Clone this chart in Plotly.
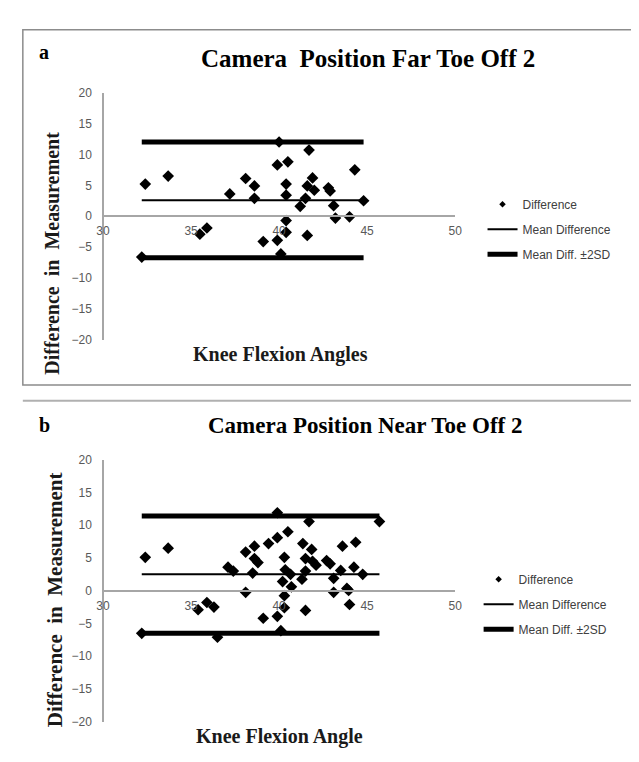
import plotly.graph_objects as go

# ---------------- data ----------------
a_x = [32.4, 33.7, 32.2, 35.5, 35.9, 37.2, 38.1, 38.6, 38.6, 39.1, 39.9, 39.9, 40.0,
       40.5, 40.4, 40.4, 40.4, 40.4, 40.1, 41.2, 41.5, 41.6, 41.7, 41.9, 42.0, 41.6,
       42.8, 42.9, 43.1, 43.2, 44.0, 44.3, 44.8]
a_y = [5.2, 6.5, -6.6, -2.9, -1.9, 3.6, 6.1, 4.9, 2.9, -4.1, -3.9, 8.3, 12.0,
       8.8, 5.2, 3.4, -0.7, -2.6, -6.1, 1.6, 2.9, 4.9, 10.7, 6.2, 4.2, -3.1,
       4.6, 4.1, 1.7, -0.3, -0.1, 7.5, 2.5]
a_mean, a_upper, a_lower = 2.6, 12.0, -6.7

b_x = [32.4, 33.7, 32.2, 35.4, 35.9, 36.3, 36.5, 37.1, 37.4, 38.1, 38.1, 38.6, 38.6,
       38.8, 38.5, 39.1, 39.4, 39.9, 39.9, 39.9, 40.1, 40.2, 40.3, 40.35, 40.3, 40.3,
       40.5, 40.65, 40.7, 41.3, 41.35, 41.5, 41.5, 41.5, 41.7, 41.85, 41.9, 42.1, 42.7,
       42.9, 43.1, 43.1, 43.5, 43.6, 43.85, 43.95, 44.0, 44.25, 44.35, 44.75, 45.7]
b_y = [5.1, 6.5, -6.5, -2.9, -1.8, -2.5, -7.1, 3.6, 3.0, 5.9, -0.25, 6.8, 4.9,
       4.3, 2.7, -4.2, 7.2, 8.1, 11.9, -3.9, -6.1, 1.4, 5.1, 3.2, -0.75, -2.6,
       9.0, 2.5, 0.6, 1.75, 7.2, 3.0, 4.9, -3.0, 10.55, 6.3, 4.5, 3.9, 4.6,
       4.1, 1.9, -0.25, 3.1, 6.8, 0.35, 0.05, -2.1, 3.6, 7.4, 2.5, 10.55]
b_mean, b_upper, b_lower = 2.5, 11.4, -6.5

x_ticks = [30, 35, 40, 45, 50]
y_ticks = [-20, -15, -10, -5, 0, 5, 10, 15, 20]

title_a = "Camera  Position Far Toe Off 2"
title_b = "Camera Position Near Toe Off 2"
xlab_a = "Knee Flexion Angles"
xlab_b = "Knee Flexion Angle"
ylab = "Difference  in  Measurement"

# ---------------- layout geometry ----------------
W, H = 639, 762
def py(v):  # pixel y -> paper
    return 1 - v / H
def px(v):
    return v / W

xdom = [px(90), px(450)]
ydom_a = [py(331), py(79)]
ydom_b = [py(720), py(453)]
pos_a = ydom_a[0] + 0.5 * (ydom_a[1] - ydom_a[0])
pos_b = ydom_b[0] + 0.5 * (ydom_b[1] - ydom_b[0])

serif = "Liberation Serif, Times New Roman, serif"
sans = "Liberation Sans, Arial, sans-serif"
tick_col = "#595959"
axis_col = "#a6a6a6"

fig = go.Figure()

def add_panel(xs, ys, mean, up, lo, xa, ya, leg):
    x0, x1 = min(xs), max(xs)
    fig.add_trace(go.Scatter(
        x=[x0, x1, None, x0, x1], y=[up, up, None, lo, lo], mode="lines",
        line=dict(color="black", width=5), name="Mean Diff. ±2SD",
        xaxis=xa, yaxis=ya, legend=leg, legendgroup="sd", legendrank=3))
    fig.add_trace(go.Scatter(
        x=[x0, x1], y=[mean, mean], mode="lines",
        line=dict(color="black", width=2), name="Mean Difference",
        xaxis=xa, yaxis=ya, legend=leg, legendgroup="mean", legendrank=2))
    fig.add_trace(go.Scatter(
        x=xs, y=ys, mode="markers",
        marker=dict(symbol="diamond", color="black", size=9, line=dict(width=0)),
        name="Difference", showlegend=False, xaxis=xa, yaxis=ya))
    # legend swatch for the markers (smaller glyph as in the original)
    fig.add_trace(go.Scatter(
        x=[None], y=[None], mode="markers",
        marker=dict(symbol="diamond", color="black", size=5),
        name="Difference", xaxis=xa, yaxis=ya, legend=leg,
        legendgroup="diff", legendrank=1))

add_panel(a_x, a_y, a_mean, a_upper, a_lower, "x", "y", "legend")
add_panel(b_x, b_y, b_mean, b_upper, b_lower, "x2", "y2", "legend2")

xaxis_common = dict(range=[30, 50], tickvals=x_ticks, showgrid=False, zeroline=False,
                    showline=True, linecolor=axis_col, linewidth=1.5,
                    tickfont=dict(family=sans, size=12, color=tick_col),
                    ticks="", ticklabelstandoff=4, domain=xdom, anchor="free",
                    fixedrange=True)
yaxis_common = dict(range=[-20, 20], tickvals=y_ticks, showgrid=False, zeroline=False,
                    showline=True, linecolor=axis_col, linewidth=1.5,
                    tickfont=dict(family=sans, size=12, color=tick_col),
                    ticks="", ticklabelstandoff=8, anchor="free", position=xdom[0],
                    fixedrange=True)

leg_common = dict(font=dict(family=sans, size=12, color="#404040"),
                  bgcolor="rgba(0,0,0,0)", traceorder="grouped", tracegroupgap=6,
                  xanchor="left", yanchor="top", itemclick=False)

def ann(text, x, y, size, angle=0, color="black"):
    return dict(text="<b>" + text + "</b>", x=px(x), y=py(y), xref="paper", yref="paper",
                xanchor="center", yanchor="middle", showarrow=False, textangle=angle,
                font=dict(family=serif, size=size, color=color))

fig.update_layout(
    width=W, height=H, margin=dict(l=0, r=0, t=0, b=0),
    paper_bgcolor="white", plot_bgcolor="white", showlegend=True,
    xaxis=dict(**xaxis_common, position=pos_a),
    yaxis=dict(**yaxis_common, domain=ydom_a),
    xaxis2=dict(**xaxis_common, position=pos_b),
    yaxis2=dict(**yaxis_common, domain=ydom_b),
    legend=dict(**leg_common, x=px(478), y=py(178)),
    legend2=dict(**leg_common, x=px(474), y=py(560)),
    shapes=[
        dict(type="rect", xref="paper", yref="paper", x0=px(8), x1=px(660),
             y0=py(377), y1=py(15), line=dict(color="#8c8c8c", width=1.5)),
        dict(type="line", xref="paper", yref="paper", x0=px(8), x1=1.0,
             y0=py(393), y1=py(393), line=dict(color="#b0b0b0", width=2)),
    ],
    annotations=[
        ann("a", 30, 38, 20),
        ann(title_a, 361, 44, 25),
        ann(xlab_a, 271, 346, 20, color="#1a1a1a"),
        ann(ylab, 37, 243, 20, angle=-90, color="#1a1a1a"),
        ann("b", 30, 418, 20),
        ann(title_b, 358, 418, 23),
        ann(xlab_b, 270, 735, 20, color="#1a1a1a"),
        ann(ylab, 41, 596, 21, angle=-90, color="#1a1a1a"),
    ],
)

fig.write_html("out.html")
